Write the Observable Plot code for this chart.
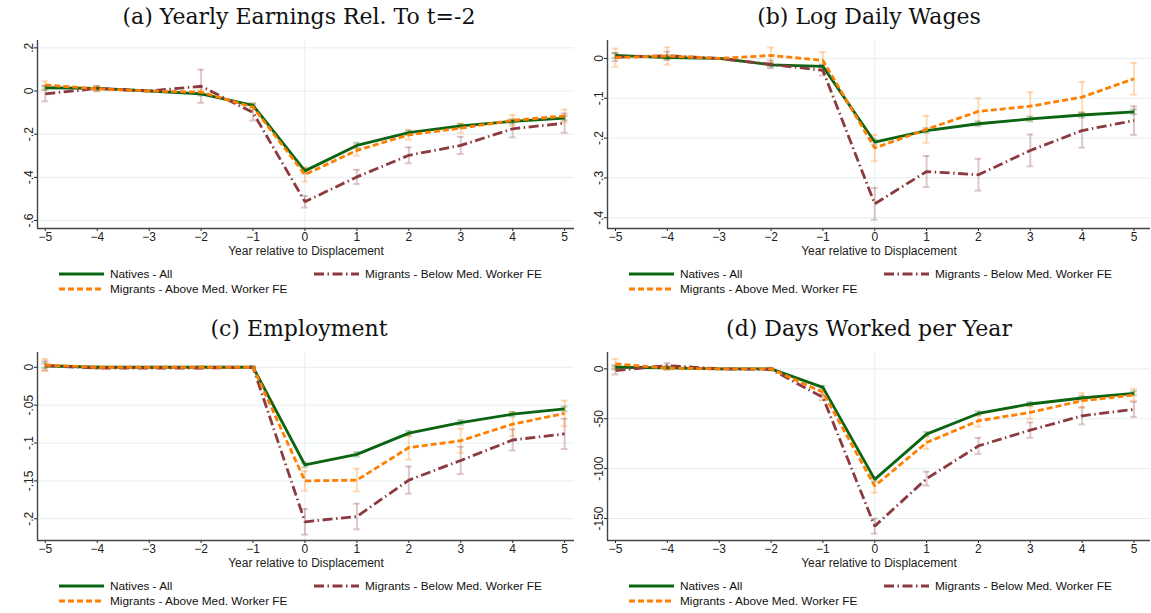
<!DOCTYPE html>
<html>
<head>
<meta charset="utf-8">
<script src="https://cdn.jsdelivr.net/npm/d3@7"></script>
<script src="https://cdn.jsdelivr.net/npm/@observablehq/plot@0.6"></script>
<style>
  body { margin: 0; background: #fff; font-family: "Liberation Sans", Arial, sans-serif; }
  #wrap { position: relative; width: 1151px; height: 613px; overflow: hidden; background: #fff; }
  .panel { position: absolute; width: 575px; height: 306px; }
  .title { position: absolute; font-family: "DejaVu Serif", serif; font-size: 22px; color: #111; white-space: nowrap; transform: translate(-50%, -50%); }
  .plot { position: absolute; left: 0; }
  .item { position: absolute; white-space: nowrap; font-size: 11.8px; color: #111; display: flex; align-items: center; transform: translateY(-50%); }
  .item svg { margin-right: 6px; }
</style>
</head>
<body>
<div id="wrap"></div>
<script>
// event time
const years = [-5, -4, -3, -2, -1, 0, 1, 2, 3, 4, 5]

// (a) yearly earnings relative to t=-2
const earnNatives = [0.015, 0.012, 0, -0.013, -0.067, -0.370, -0.252, -0.193, -0.162, -0.141, -0.126]
const earnAbove   = [0.028, 0.010, 0, -0.005, -0.075, -0.387, -0.275, -0.203, -0.172, -0.136, -0.116]
const earnBelow   = [-0.013, 0.012, 0, 0.022, -0.100, -0.513, -0.398, -0.298, -0.252, -0.175, -0.149]
const earnNativesCI = [0.01, 0.008, 0, 0.008, 0.01, 0.012, 0.012, 0.01, 0.01, 0.01, 0.01]
const earnAboveCI   = [0.017, 0.012, 0, 0.012, 0.015, 0.033, 0.025, 0.022, 0.022, 0.025, 0.03]
const earnBelowCI   = [0.035, 0.012, 0, 0.077, 0.037, 0.027, 0.033, 0.037, 0.04, 0.04, 0.045]

// (b) log daily wages
const wageNatives = [0.0075, 0.002, 0, -0.016, -0.020, -0.210, -0.181, -0.164, -0.152, -0.142, -0.134]
const wageAbove   = [0.002, 0.006, 0, 0.0075, -0.005, -0.225, -0.178, -0.133, -0.120, -0.097, -0.051]
const wageBelow   = [0.003, 0.007, 0, -0.015, -0.030, -0.365, -0.284, -0.292, -0.231, -0.181, -0.156]
const wageNativesCI = [0.006, 0.005, 0, 0.005, 0.005, 0.006, 0.006, 0.006, 0.006, 0.006, 0.006]
const wageAboveCI   = [0.023, 0.022, 0, 0.02, 0.021, 0.033, 0.034, 0.033, 0.035, 0.038, 0.04]
const wageBelowCI   = [0.01, 0.01, 0, 0.01, 0.013, 0.04, 0.039, 0.04, 0.04, 0.043, 0.036]

// (c) employment
const empNatives = [0.002, 0, 0, 0, 0, -0.129, -0.115, -0.087, -0.073, -0.062, -0.055]
const empAbove   = [0.003, 0, 0, 0, 0, -0.150, -0.149, -0.106, -0.097, -0.075, -0.061]
const empBelow   = [0.002, -0.001, -0.001, -0.001, 0, -0.204, -0.197, -0.149, -0.123, -0.096, -0.088]
const empNativesCI = [0.003, 0.001, 0, 0.001, 0.001, 0.003, 0.003, 0.003, 0.003, 0.003, 0.003]
const empAboveCI   = [0.008, 0.001, 0, 0.001, 0.001, 0.013, 0.015, 0.016, 0.016, 0.016, 0.017]
const empBelowCI   = [0.006, 0.001, 0, 0.001, 0.001, 0.017, 0.017, 0.018, 0.018, 0.014, 0.02]

// (d) days worked per year
const daysNatives = [1.6, 1, 0, 0, -18.5, -110.7, -65.4, -44.7, -35.2, -29.2, -24.5]
const daysAbove   = [5, 0.7, 0, 0, -23.5, -117.4, -73.8, -52, -43.7, -31.9, -26.2]
const daysBelow   = [-1.7, 3.3, 0, -0.5, -28.5, -157.6, -110, -77.2, -61.4, -47, -40.6]
const daysNativesCI = [2, 1.5, 0, 1, 1.5, 2, 2, 2, 2, 2, 2]
const daysAboveCI   = [5, 2, 0, 1, 2.5, 6.7, 6.7, 6, 6.4, 7.5, 6]
const daysBelowCI   = [4, 2.5, 0, 1, 3, 7.5, 7, 8, 7.7, 8.7, 7.5]

const titles = ["(a) Yearly Earnings Rel. To t=-2", "(b) Log Daily Wages", "(c) Employment", "(d) Days Worked per Year"]
const yTicks = [
  [0.2, 0, -0.2, -0.4, -0.6],
  [0, -0.1, -0.2, -0.3, -0.4],
  [0, -0.05, -0.1, -0.15, -0.2],
  [0, -50, -100, -150]
]
const seriesNames = ["Natives - All", "Migrants - Below Med. Worker FE", "Migrants - Above Med. Worker FE"]

const styles = {
  "Natives - All": {stroke: "#0a6410", dash: null},
  "Migrants - Below Med. Worker FE": {stroke: "#8c3a3f", dash: "10,3.5,1.5,3.5"},
  "Migrants - Above Med. Worker FE": {stroke: "#ff7f00", dash: "6,3"}
}

const panels = [
  {left: 0,   top: 0,   off: 0, ml: 37, xd: [-5.15, 5.19], yd: [-0.637, 0.234], vals: [earnNatives, earnBelow, earnAbove], ci: [earnNativesCI, earnBelowCI, earnAboveCI]},
  {left: 576, top: 0,   off: 0, ml: 31, xd: [-5.154, 5.318], yd: [-0.427, 0.045], vals: [wageNatives, wageBelow, wageAbove], ci: [wageNativesCI, wageBelowCI, wageAboveCI]},
  {left: 0,   top: 306, off: 6, ml: 37, xd: [-5.15, 5.19], yd: [-0.2287, 0.0195], vals: [empNatives, empBelow, empAbove], ci: [empNativesCI, empBelowCI, empAboveCI]},
  {left: 576, top: 306, off: 6, ml: 31, xd: [-5.154, 5.318], yd: [-172, 16.4], vals: [daysNatives, daysBelow, daysAbove], ci: [daysNativesCI, daysBelowCI, daysAboveCI]}
]

// stata style: drop the leading zero
const fmt = d => d === 0 ? "0" : String(d).replace("0.", ".")

const wrap = d3.select('#wrap')

panels.forEach((p, k) => {
  let data = seriesNames.flatMap((s, j) => years.map((x, i) => ({
    x, y: p.vals[j][i], ci: p.ci[j][i],
    lo: p.vals[j][i] - p.ci[j][i], hi: p.vals[j][i] + p.ci[j][i],
    series: s
  })))
  let bars = data.filter(d => d.ci > 0)
  let cap = 0.065

  let marks = [
    Plot.ruleY(yTicks[k], {stroke: "#e5eeef", strokeWidth: 1}),
    Plot.ruleX([0], {stroke: "#e5eeef", strokeWidth: 1}),
  ]
  // confidence intervals, drawn faint under the lines
  seriesNames.forEach(s => {
    let b = bars.filter(d => d.series === s)
    let c = styles[s].stroke
    marks.push(
      Plot.ruleX(b, {x: 'x', y1: 'lo', y2: 'hi', stroke: c, strokeOpacity: 0.28, strokeWidth: 2}),
      Plot.ruleY(b, {y: 'lo', x1: d => d.x - cap, x2: d => d.x + cap, stroke: c, strokeOpacity: 0.28, strokeWidth: 2}),
      Plot.ruleY(b, {y: 'hi', x1: d => d.x - cap, x2: d => d.x + cap, stroke: c, strokeOpacity: 0.28, strokeWidth: 2})
    )
  })
  seriesNames.forEach(s => {
    marks.push(Plot.line(data.filter(d => d.series === s), {
      x: 'x', y: 'y', stroke: styles[s].stroke, strokeWidth: 2.8,
      strokeDasharray: styles[s].dash, strokeLinejoin: "miter", strokeLinecap: "butt"
    }))
  })
  marks.push(
    Plot.ruleX([p.xd[0]], {stroke: "#444", strokeWidth: 1.4}),
    Plot.ruleY([p.yd[0]], {stroke: "#444", strokeWidth: 1.4})
  )

  let chart = Plot.plot({
    width: 575,
    height: 230,
    marginLeft: p.ml,
    marginRight: 1,
    marginTop: 10,
    marginBottom: 32,
    style: {fontFamily: '"Liberation Sans", Arial, sans-serif', fontSize: "12px", color: "#222", background: "transparent"},
    x: {
      domain: p.xd, ticks: years, tickSize: 3, tickPadding: 1,
      label: "Year relative to Displacement", labelAnchor: "center", labelOffset: 26, labelArrow: "none"
    },
    y: {
      domain: p.yd, ticks: yTicks[k], tickFormat: fmt, tickSize: 3, tickPadding: 2,
      tickRotate: -90, label: null
    },
    marks
  })

  let panel = wrap.append('div').attr('class', 'panel')
    .style('left', p.left + 'px').style('top', p.top + 'px')

  panel.append('div').attr('class', 'title')
    .style('left', (p.ml + 262) + 'px').style('top', (16 + p.off) + 'px')
    .text(titles[k])

  panel.append('div').attr('class', 'plot')
    .style('top', (30 + p.off) + 'px')
    .append(() => chart)

  // legend: two columns, natives + below in the first row
  let pos = [[0, 0], [255, 0], [0, 15]]
  seriesNames.forEach((s, j) => {
    let item = panel.append('div').attr('class', 'item')
      .style('left', (p.ml + 22 + pos[j][0]) + 'px')
      .style('top', (274 + p.off + pos[j][1]) + 'px')
    let sw = item.append('svg').attr('width', 45).attr('height', 8)
    sw.append('line').attr('x1', 0).attr('x2', 45).attr('y1', 4).attr('y2', 4)
      .attr('stroke', styles[s].stroke).attr('stroke-width', 2.8)
      .attr('stroke-dasharray', styles[s].dash)
    item.append('span').text(s)
  })
})
</script>
</body>
</html>
